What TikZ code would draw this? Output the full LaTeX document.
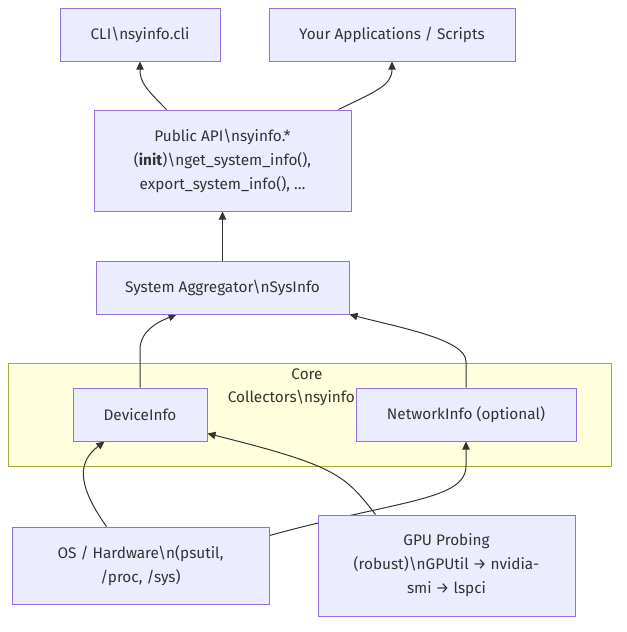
\documentclass[tikz,border=0pt]{standalone}
\usepackage{fontspec}
\setmainfont{Fira Sans}
\usetikzlibrary{arrows.meta, positioning, calc, backgrounds}
\definecolor{nodefill}{HTML}{ECECFF}
\definecolor{nodeline}{HTML}{9370DB}
\definecolor{corefill}{HTML}{FFFFDE}
\definecolor{coreline}{HTML}{AAAA33}
\definecolor{ink}{HTML}{333333}
\pgfdeclarelayer{edges}
\pgfsetlayers{background,edges,main}

\begin{document}
\begin{tikzpicture}[
  x=0.75pt,y=-0.75pt,
  box/.style={draw=nodeline, fill=nodefill, line width=0.75pt, minimum height=39.75pt, inner sep=0pt, align=center, text=ink, font=\fontsize{11.5}{18}\selectfont},
  flow/.style={-{Triangle[length=6pt,width=5.5pt]}, draw=ink, line width=0.75pt},
  group/.style={draw=coreline, fill=corefill, line width=0.75pt, inner sep=0pt},
  grouplbl/.style={text=ink, inner sep=0pt, font=\fontsize{11.5}{18}\selectfont}
]
\useasboundingbox (0,0) rectangle (627,632);

% top: consumers
\node[box, minimum width=120pt] (cli) at (140,34.5) {CLI\textbackslash nsyinfo.cli};
\node[box, minimum width=184.5pt] (apps) at (392,34.5) {Your Applications / Scripts};
\node[box, minimum width=192.75pt, minimum height=75.75pt] (api) at (222.5,160.5) {Public API\textbackslash nsyinfo.*\\(\textbf{init})\textbackslash nget\_system\_info(),\\export\_system\_info(), …};
\node[box, minimum width=189.75pt] (agg) at (222.5,287.5) {System Aggregator\textbackslash nSysInfo};

% core collectors
\begin{pgfonlayer}{background}
\node[group, minimum width=452.25pt, minimum height=77.25pt, anchor=north west] (core) at (8,363) {};
\end{pgfonlayer}
\node[grouplbl] (corelbl) at (307,374) {Core};
\node[grouplbl, anchor=east] (corelbl2) at (355,398) {Collectors\textbackslash nsyinfo};
\node[box, minimum width=100.5pt] (dev) at (140,414.5) {DeviceInfo};
\node[box, minimum width=165pt] (net) at (466,414.5) {NetworkInfo (optional)};

% bottom: sources
\node[box, minimum width=192.75pt, minimum height=57.75pt] (os) at (140.5,565.5) {OS / Hardware\textbackslash n(psutil,\\/proc, /sys)};
\node[box, minimum width=192.75pt, minimum height=75.75pt] (gpu) at (446.5,565.5) {GPU Probing\\(robust)\textbackslash nGPUtil → nvidia-\\smi → lspci};

% edges, under the boxes
\begin{pgfonlayer}{edges}
\draw[flow] ($(api.north west)+(73,0)$) .. controls +(-22,-22) and +(0,20) .. (cli.south);
\draw[flow] ($(api.north east)+(-13,0)$) .. controls +(37,-18) and +(0,24) .. (apps.south);
\draw[flow] (agg.north) -- (api.south);
\draw[flow] (dev.north) -- +(0,-38) .. controls +(0,-20) and +(-15,6) .. ($(agg.south west)+(81,0)$);
\draw[flow] (net.north) -- +(0,-26) .. controls +(0,-22) and +(50,13) .. (agg.south east);
\draw[flow] ($(os.north west)+(95,0)$) .. controls +(-32,-45) and +(-25,19) .. ($(dev.south west)+(32,0)$);
\draw[flow] ($(gpu.north west)+(58,0)$) .. controls +(-31,-40) and +(128,32) .. ($(dev.south east)+(0,-8)$);
\draw[flow] ($(os.north east)+(0,9)$) .. controls +(131,-36) and +(0,35) .. ($(net.south)+(0,24)$) -- (net.south);
\end{pgfonlayer}

\end{tikzpicture}
\end{document}
